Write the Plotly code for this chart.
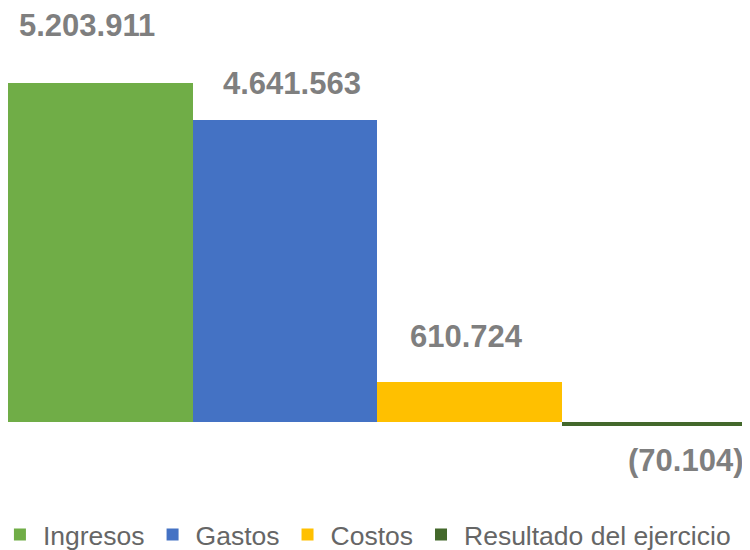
import plotly.graph_objects as go

categories = ["Ingresos", "Gastos", "Costos", "Resultado del ejercicio"]
values = [5203911, 4641563, 610724, -70104]
colors = ["#70AD47", "#4472C4", "#FFC000", "#43682B"]

# label placement (pixels) relative to bar end
label_xshift = [-13, 7, -3, 32]
label_yshift = [58, 37, 45, -34]


def fmt(v):
    s = f"{abs(v):,}".replace(",", ".")
    return f"({s})" if v < 0 else s


fig = go.Figure()
for cat, val, col in zip(categories, values, colors):
    fig.add_trace(go.Bar(x=[cat], y=[val], name=cat, marker=dict(color=col, line=dict(width=0))))

for cat, val, xs, ys in zip(categories, values, label_xshift, label_yshift):
    fig.add_annotation(x=cat, y=val, text=fmt(val), showarrow=False,
                       xshift=xs, yshift=ys, yanchor="middle", xanchor="center",
                       font=dict(family="Liberation Sans, Arial", size=31, color="#7F7F7F", weight="bold"))

fig.update_layout(
    width=750, height=550,
    barmode="relative", bargap=0,
    paper_bgcolor="white", plot_bgcolor="white",
    margin=dict(l=0, r=12, t=0, b=110, autoexpand=False),
    xaxis=dict(visible=False),
    yaxis=dict(visible=False, range=[-408000, 6366000]),
    showlegend=True,
    legend=dict(orientation="h", x=-0.015, xanchor="left", y=-0.197, yanchor="middle",
                itemwidth=36,
                font=dict(family="Liberation Sans, Arial", size=26.5, color="#666666"),
                traceorder="normal", itemclick=False),
    font=dict(family="Liberation Sans, Arial"),
)

fig.write_html("out.html")
